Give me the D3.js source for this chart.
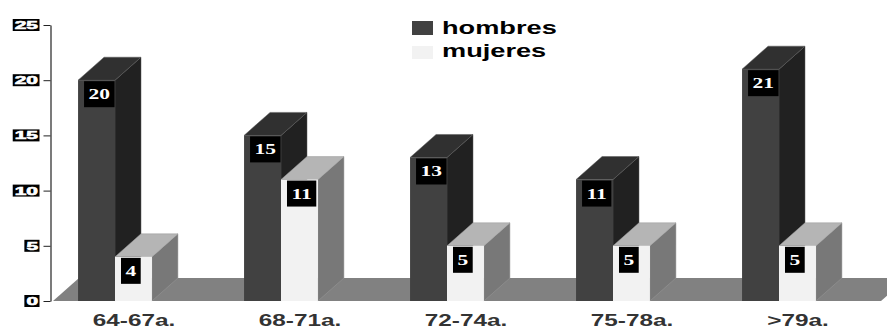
<!DOCTYPE html>
<html>
<head>
<meta charset="utf-8">
<script src="https://cdn.jsdelivr.net/npm/d3@7"></script>
<style>
  html, body { margin: 0; padding: 0; background: #fff; }
  svg { display: block; }
</style>
</head>
<body>
<svg id="chart" width="887" height="329"></svg>
<script>
// Age groups and counts per sex
const categories = ["64-67a.", "68-71a.", "72-74a.", "75-78a.", ">79a."];
const seriesNames = ["hombres", "mujeres"];
const hombres = [20, 15, 13, 11, 21];
const mujeres = [4, 11, 5, 5, 5];
const yTicks = [0, 5, 10, 15, 20, 25];

const svg = d3.select("#chart");

// 3D depth offset of every box
const DX = 26, DY = 23;
// horizontal widening applied to the text
const STRETCH = 1.43;
const TICK_STRETCH = 1.9;

const x = d3.scaleBand().domain(categories).range([51, 881]).padding(0);
const bw = x.bandwidth();
const xs = d3.scaleBand().domain(seriesNames).range([bw * 0.163, bw * 0.608]).padding(0);
const y = d3.scaleLinear().domain([0, 25]).range([301, 25]);

const colors = {
  hombres: { front: "#414141", top: "#303030", side: "#212121", edge: "#595959" },
  mujeres: { front: "#f2f2f2", top: "#b5b5b5", side: "#787878", edge: "#9a9a9a" }
};

function widen(sel, k) {
  sel.each(function () {
    const w = this.getComputedTextLength();
    d3.select(this).attr("textLength", w * k).attr("lengthAdjust", "spacingAndGlyphs");
    this.__w = w * k;
  });
}

// floor plane
const base = y(0);
const fx0 = x.range()[0] + 2, fx1 = x.range()[1];
svg.append("polygon")
  .attr("points", [[fx0, base], [fx0 + DX, base - DY], [fx1 + DX, base - DY], [fx1, base]].map(p => p.join(",")).join(" "))
  .attr("fill", "#818181");

// y axis line and tick marks
const axis = svg.append("g")
  .attr("transform", "translate(50.5,0)")
  .call(d3.axisLeft(y).tickValues(yTicks).tickSize(7).tickSizeOuter(0).tickFormat(""));
axis.select(".domain").attr("stroke", "#222").attr("stroke-width", 1.2);
axis.selectAll(".tick line").attr("stroke", "#222").attr("stroke-width", 1);

// tick labels: heavy white figures on black boxes
const tickLabels = svg.append("g").selectAll("g").data(yTicks).join("g")
  .attr("transform", d => `translate(38,${y(d)})`);
tickLabels.append("text")
  .attr("x", 0).attr("y", 4)
  .attr("text-anchor", "end")
  .style("fill", "#ffffff")
  .style("stroke", "#ffffff")
  .style("stroke-width", 0.6)
  .attr("font-family", "'Liberation Sans', Arial, sans-serif")
  .attr("font-weight", "bold")
  .attr("font-size", 11)
  .text(d => d)
  .call(widen, TICK_STRETCH);
tickLabels.each(function () {
  const t = d3.select(this).select("text").node();
  const w = t.__w;
  d3.select(this).insert("rect", "text")
    .attr("x", -w - 2)
    .attr("y", -6)
    .attr("width", w + 3.5)
    .attr("height", 12)
    .style("fill", "#000000");
});

// bars
const data = categories.map((c, i) => ({ cat: c, hombres: hombres[i], mujeres: mujeres[i] }));
const groups = svg.append("g").selectAll("g").data(data).join("g")
  .attr("transform", d => `translate(${x(d.cat)},0)`);

seriesNames.forEach(s => {
  const col = colors[s];
  const bars = groups.append("g");
  const x0 = xs(s), x1 = xs(s) + xs.bandwidth();
  // side face
  bars.append("polygon")
    .attr("points", d => {
      const t = y(d[s]);
      return [[x1, t], [x1 + DX, t - DY], [x1 + DX, base - DY], [x1, base]].map(p => p.join(",")).join(" ");
    })
    .attr("fill", col.side).attr("stroke", col.edge).attr("stroke-width", 0.5);
  // top face
  bars.append("polygon")
    .attr("points", d => {
      const t = y(d[s]);
      return [[x0, t], [x0 + DX, t - DY], [x1 + DX, t - DY], [x1, t]].map(p => p.join(",")).join(" ");
    })
    .attr("fill", col.top).attr("stroke", col.edge).attr("stroke-width", 0.5);
  // front face
  bars.append("rect")
    .attr("x", x0).attr("width", xs.bandwidth())
    .attr("y", d => y(d[s])).attr("height", d => base - y(d[s]))
    .attr("fill", col.front);

  // value label in a black box
  const lab = bars.append("g");
  const txt = lab.append("text")
    .attr("y", d => y(d[s]) + 19)
    .attr("text-anchor", "middle")
    .style("fill", "#ffffff")
    .attr("font-family", "'Liberation Serif', 'DejaVu Serif', serif")
    .attr("font-weight", "bold")
    .attr("font-size", 15)
    .text(d => d[s]);
  txt.call(widen, STRETCH);
  txt.each(function (d) {
    const w = this.__w;
    const bwid = w + 9;
    const bx = x0 + 6;
    d3.select(this).attr("x", bx + bwid / 2);
    d3.select(this.parentNode).insert("rect", "text")
      .attr("x", bx).attr("y", y(d[s]) + 1)
      .attr("width", bwid).attr("height", 26)
      .style("fill", "#000000");
  });
});

// category labels
svg.append("g").selectAll("text").data(categories).join("text")
  .attr("x", d => x(d) + bw / 2)
  .attr("y", 325.5)
  .attr("text-anchor", "middle")
  .attr("fill", "#333")
  .attr("font-family", "'Liberation Sans', Arial, sans-serif")
  .attr("font-weight", "bold")
  .attr("font-size", 17)
  .text(d => d)
  .call(widen, STRETCH);

// legend
const legend = svg.append("g");
const legendRows = [
  { name: "hombres", boxY: 21, boxH: 14, textY: 34 },
  { name: "mujeres", boxY: 46, boxH: 13, textY: 57 }
];
legendRows.forEach(r => {
  legend.append("rect")
    .attr("x", 412).attr("y", r.boxY).attr("width", 21).attr("height", r.boxH)
    .attr("fill", colors[r.name].front);
  legend.append("text")
    .attr("x", 442).attr("y", r.textY)
    .attr("fill", "#000")
    .attr("font-family", "'Liberation Sans', Arial, sans-serif")
    .attr("font-weight", "bold")
    .attr("font-size", 19)
    .text(r.name)
    .call(widen, STRETCH);
});
</script>
</body>
</html>
